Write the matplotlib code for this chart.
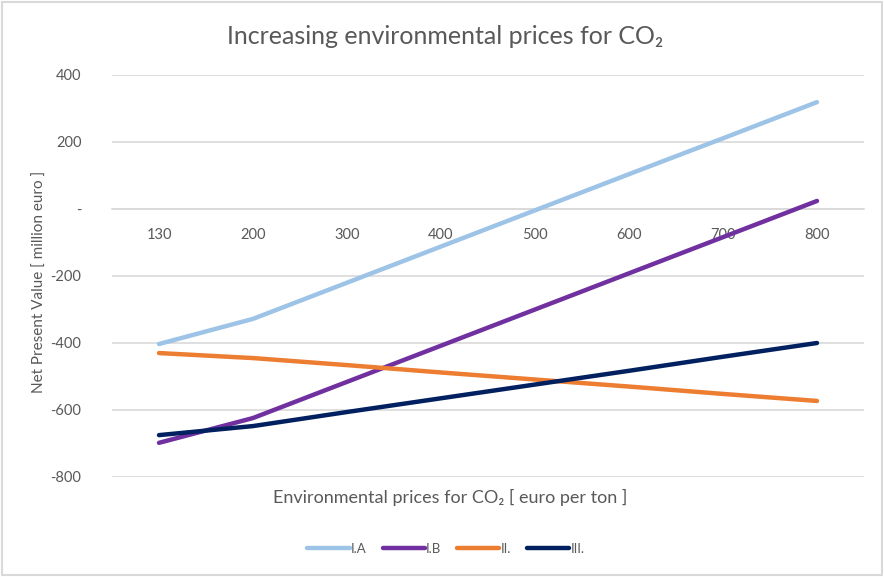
import matplotlib.pyplot as plt
from matplotlib.patches import Rectangle

plt.rcParams['font.family'] = ['Lato', 'DejaVu Sans']

# CO2 price scenarios (category axis) and net present value per variant
prices = ['130', '200', '300', '400', '500', '600', '700', '800']
npv_ia = [-403, -328, -220, -112, -4, 104, 211, 319]
npv_ib = [-698, -624, -516, -408, -300, -192, -84, 24]
npv_ii = [-430, -445, -466, -488, -509, -530, -552, -573]
npv_iii = [-675, -648, -606, -565, -524, -483, -441, -400]

series = [
    ('I.A', npv_ia, '#9dc3e6'),
    ('I.B', npv_ib, '#7030a0'),
    ('II.', npv_ii, '#ed7d31'),
    ('III.', npv_iii, '#002060'),
]

y_ticks = [-800, -600, -400, -200, 0, 200, 400]
y_labels = ['-800', '-600', '-400', '-200', '-', '200', '400']

text_col = '#595959'
grid_col = '#d9d9d9'

W, H = 884, 577
fig = plt.figure(figsize=(W / 100, H / 100), dpi=100)
ax = fig.add_axes([112 / W, (H - 477) / H, (864 - 112) / W, (477 - 75) / H])

x = list(range(len(prices)))
for name, vals, col in series:
    ax.plot(x, vals, color=col, lw=3.2, solid_capstyle='round', label=name, zorder=3)

ax.set_xlim(-0.5, len(prices) - 0.5)
ax.set_ylim(-800, 400)
ax.set_yticks(y_ticks)
ax.set_yticklabels(y_labels)
ax.yaxis.grid(True, color=grid_col, lw=1.2)
ax.set_axisbelow(True)

for s in ['top', 'right', 'left']:
    ax.spines[s].set_visible(False)
ax.spines['bottom'].set_position(('data', 0))
ax.spines['bottom'].set_color(grid_col)
ax.spines['bottom'].set_linewidth(1.2)
ax.set_xticks(x)
ax.set_xticklabels(prices)
ax.tick_params(axis='both', length=0, colors=text_col, labelsize=10.5)
ax.tick_params(axis='x', pad=14)
ax.tick_params(axis='y', pad=22)

fig.text(445 / W, 1 - 37 / H, 'Increasing environmental prices for CO\u2082',
         ha='center', va='center', fontsize=18, color=text_col)
fig.text(450 / W, 1 - 497 / H, 'Environmental prices for CO\u2082 [ euro per ton ]',
         ha='center', va='center', fontsize=13, color=text_col)
fig.text(40 / W, 1 - 282 / H, 'Net Present Value [ million euro ]', rotation=90,
         ha='center', va='center', fontsize=11, color=text_col)

fig.legend(loc='center', bbox_to_anchor=(446 / W, 1 - 549 / H), ncol=4,
           frameon=False, fontsize=9.5, handlelength=3.2, columnspacing=1.2,
           handletextpad=0.1, labelcolor=text_col)

# thin chart-area frame
fig.add_artist(Rectangle((0.002, 0.003), 0.996, 0.994, transform=fig.transFigure,
                         fill=False, edgecolor=grid_col, lw=1.5))

fig.savefig('out.png', dpi=100)
